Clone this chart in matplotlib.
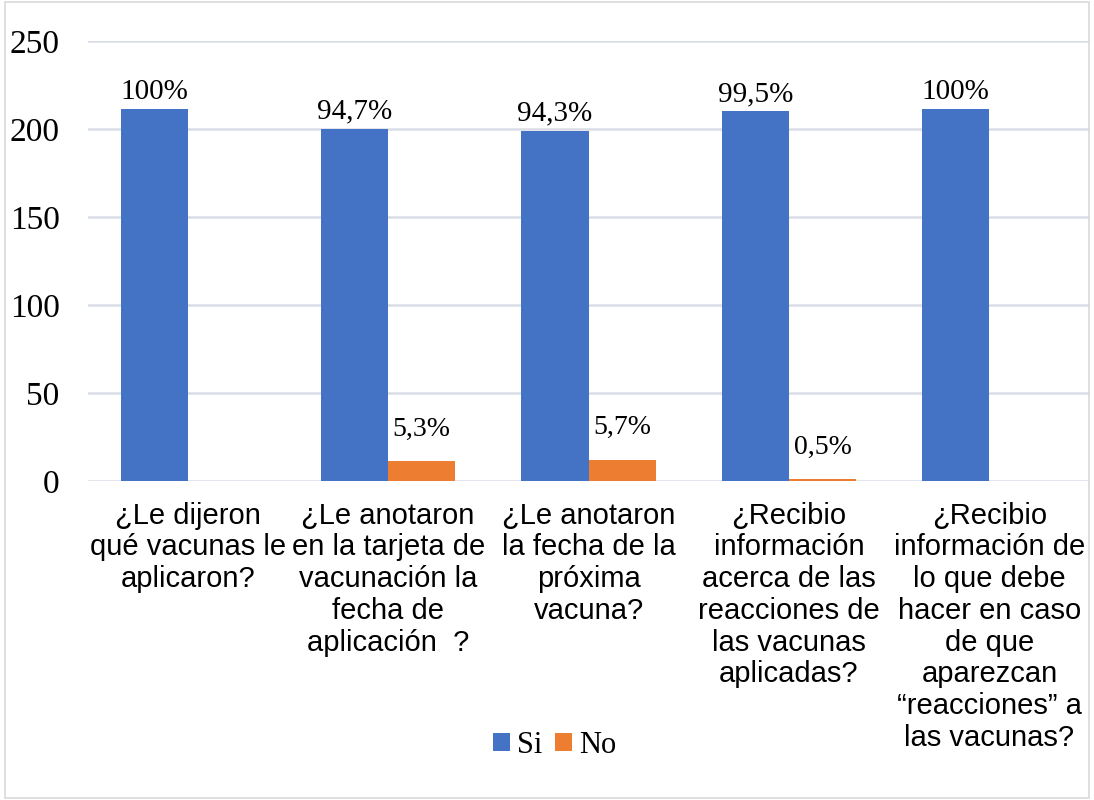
import matplotlib.pyplot as plt
import numpy as np
from matplotlib.patches import Rectangle

# Data
categories = [
    "¿Le dijeron\nqué vacunas le\naplicaron?",
    "¿Le anotaron\nen la tarjeta de\nvacunación la\nfecha de\naplicación  ?",
    "¿Le anotaron\nla fecha de la\npróxima\nvacuna?",
    "¿Recibio\ninformación\nacerca de las\nreacciones de\nlas vacunas\naplicadas?",
    "¿Recibio\ninformación de\nlo que debe\nhacer en caso\nde que\naparezcan\n“reacciones” a\nlas vacunas?",
]
si_values = [211, 200, 199, 210, 211]
no_values = [0, 11, 12, 1, 0]
si_labels = ["100%", "94,7%", "94,3%", "99,5%", "100%"]
no_labels = ["", "5,3%", "5,7%", "0,5%", ""]

blue = "#4472C4"
orange = "#ED7D31"
serif = "Liberation Serif"
sans = "Liberation Sans"

fig = plt.figure(figsize=(10.94, 8), dpi=100)
ax = fig.add_axes([0.080, 0.399, 0.916, 0.550])

x = np.arange(len(categories))
w = 0.335
bars_si = ax.bar(x - w / 2, si_values, w, color=blue, label="Si", zorder=3)
bars_no = ax.bar(x + w / 2, no_values, w, color=orange, label="No", zorder=3)

for b, t in zip(bars_si, si_labels):
    ax.annotate(t, (b.get_x() + b.get_width() / 2, b.get_height()),
                xytext=(0, 3), textcoords="offset points", ha="center", va="bottom",
                fontsize=21, family=serif)
for b, t in zip(bars_no, no_labels):
    ax.annotate(t, (b.get_x() + b.get_width() / 2, b.get_height()),
                xytext=(0, 14), textcoords="offset points", ha="center", va="bottom",
                fontsize=20, family=serif)

ax.set_xlim(-0.5, len(categories) - 0.5)
ax.set_ylim(0, 250)
ax.set_yticks(range(0, 251, 50))
ax.yaxis.grid(True, color="#D9DEE6", lw=1.8, zorder=0)
ax.set_axisbelow(True)
for s in ax.spines.values():
    s.set_visible(False)
ax.tick_params(length=0)
ax.tick_params(axis="y", pad=20)
for lab in ax.get_yticklabels():
    lab.set_family(serif)
    lab.set_fontsize(24)

ax.set_xticks(x)
ax.set_xticklabels(categories, family=sans, fontsize=21, linespacing=1.17, va="top")
ax.tick_params(axis="x", pad=15)

ax.legend(loc="center", bbox_to_anchor=(0.507, 0.068), bbox_transform=fig.transFigure,
          ncol=2, frameon=False, handlelength=0.55, handleheight=0.55,
          handletextpad=0.25, columnspacing=0.4, prop={"family": serif, "size": 22})

fig.patches.append(Rectangle((0.005, 0.003), 0.99, 0.994, transform=fig.transFigure,
                             fill=False, edgecolor="#D9D9D9", lw=1.2))

fig.savefig("out.png", dpi=100)
